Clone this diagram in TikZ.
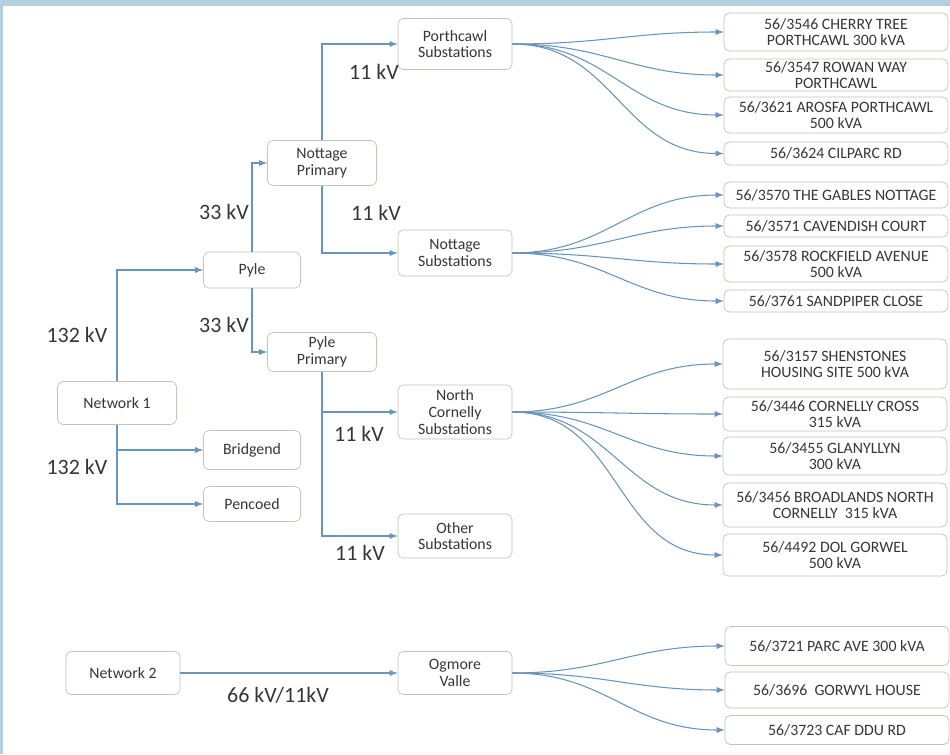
\documentclass[tikz,border=0pt]{standalone}
\usepackage{fontspec}
\setmainfont{Carlito}
\usepackage{xcolor}
\definecolor{frameblue}{RGB}{180,207,222}
\definecolor{linkblue}{RGB}{105,148,188}
\definecolor{boxgrey}{RGB}{190,200,180}
\definecolor{txtgrey}{RGB}{55,55,55}
\usepackage{tikz}
\usetikzlibrary{calc,positioning,arrows,shapes}
\tikzset{
  box/.style={rectangle,rounded corners=3pt,draw=boxgrey,fill=white,text=txtgrey,align=center,font=\fontsize{9}{9.6}\selectfont,inner sep=1pt},
  sbox/.style={box,minimum width=1.94cm},
  mbox/.style={box,minimum width=2.18cm},
  lbox/.style={box,minimum width=2.28cm},
  leaf/.style={box,minimum width=4.48cm},
  kv/.style={text=txtgrey,font=\fontsize{12.5}{14}\selectfont},
  line/.style={draw=linkblue,semithick,->,>=latex},
  fan/.style={out=0,in=180,looseness=1.1}
}
\begin{document}
\begin{tikzpicture}[x=0.02cm,y=-0.02cm]
    \fill[frameblue] (0,0) rectangle (950,754);
    \fill[white] (3,6) rectangle (950,754);
    \useasboundingbox (0,0) rectangle (950,754);

    \node[box,minimum width=2.38cm,minimum height=0.86cm] (net1) at (117,403) {Network 1};
    \node[sbox,minimum height=0.72cm] (pyle) at (252,270) {Pyle};
    \node[sbox,minimum height=0.78cm] (bridgend) at (252,450) {Bridgend};
    \node[sbox,minimum height=0.70cm] (pencoed) at (252,504) {Pencoed};
    \node[mbox,minimum height=0.90cm] (nprim) at (322,163) {Nottage\\ Primary};
    \node[mbox,minimum height=0.78cm] (pprim) at (322,352) {Pyle\\ Primary};
    \node[lbox,minimum height=1.02cm] (porth) at (455,44) {Porthcawl\\ Substations};
    \node[lbox,minimum height=0.92cm] (nottsub) at (455,253) {Nottage\\ Substations};
    \node[lbox,minimum height=1.08cm] (ncsub) at (455,412) {North\\ Cornelly\\ Substations};
    \node[lbox,minimum height=0.88cm] (othersub) at (455,536) {Other\\ Substations};
    \node[lbox,minimum height=0.86cm] (net2) at (123,673) {Network 2};
    \node[lbox,minimum height=0.86cm] (ogmore) at (455,673) {Ogmore\\ Valle};

    \node[leaf,minimum height=0.76cm] (cherry) at (836,32) {56/3546 CHERRY TREE\\ PORTHCAWL 300 kVA};
    \node[leaf,minimum height=0.64cm] (rowan) at (836,75) {56/3547 ROWAN WAY\\ PORTHCAWL};
    \node[leaf,minimum height=0.72cm] (arosfa) at (836,115) {56/3621 AROSFA PORTHCAWL\\ 500 kVA};
    \node[leaf,minimum height=0.46cm] (cilparc) at (836,153.5) {56/3624 CILPARC RD};
    \node[leaf,minimum height=0.52cm] (gables) at (836,195) {56/3570 THE GABLES NOTTAGE};
    \node[leaf,minimum height=0.44cm] (cavend) at (836,226) {56/3571 CAVENDISH COURT};
    \node[leaf,minimum height=0.72cm] (rockf) at (836,264) {56/3578 ROCKFIELD AVENUE\\ 500 kVA};
    \node[leaf,minimum height=0.44cm] (sandp) at (836,301) {56/3761 SANDPIPER CLOSE};
    \node[leaf,minimum height=1.00cm] (shens) at (835,364) {56/3157 SHENSTONES\\ HOUSING SITE 500 kVA};
    \node[leaf,minimum height=0.68cm] (ccross) at (835,414) {56/3446 CORNELLY CROSS\\ 315 kVA};
    \node[leaf,minimum height=0.76cm] (glan) at (835,456) {56/3455 GLANYLLYN\\ 300 kVA};
    \node[leaf,minimum height=0.88cm] (broad) at (835,505) {56/3456 BROADLANDS NORTH\\ CORNELLY~ 315 kVA};
    \node[leaf,minimum height=0.84cm] (dolg) at (835,555) {56/4492 DOL GORWEL\\ 500 kVA};
    \node[leaf,minimum height=0.78cm] (parc) at (837,646) {56/3721 PARC AVE 300 kVA};
    \node[leaf,minimum height=0.72cm] (gorwyl) at (837,690) {56/3696~ GORWYL HOUSE};
    \node[leaf,minimum height=0.58cm] (cafddu) at (837,730) {56/3723 CAF DDU RD};

    \node[kv] (kvnetA) at (77,335) {132 kV};
    \node[kv] (kvnetB) at (77,467) {132 kV};
    \node[kv] (kvpyleA) at (224,212) {33 kV};
    \node[kv] (kvpyleB) at (224,325) {33 kV};
    \node[kv] (kvporth) at (374,72) {11 kV};
    \node[kv] (kvnott) at (376,213) {11 kV};
    \node[kv] (kvnc) at (359,434) {11 kV};
    \node[kv] (kvother) at (360,553) {11 kV};
    \node[kv] (kvnet2) at (278,695) {66 kV/11kV};

    \begin{scope}[every path/.style=line]
      \path (net1) |- (pyle);
      \path (net1) |- (bridgend);
      \path (net1) |- (pencoed);
      \path (pyle) |- (nprim);
      \path (pyle) |- (pprim);
      \path (nprim) |- (porth);
      \path (nprim) |- (nottsub);
      \path (pprim) |- (ncsub);
      \path (pprim) |- (othersub);
      \path (net2) -- (ogmore);

      \path (porth.east) to[fan] (cherry.west);
      \path (porth.east) to[fan] (rowan.west);
      \path (porth.east) to[fan] (arosfa.west);
      \path (porth.east) to[fan] (cilparc.west);
      \path (nottsub.east) to[fan] (gables.west);
      \path (nottsub.east) to[fan] (cavend.west);
      \path (nottsub.east) to[fan] (rockf.west);
      \path (nottsub.east) to[fan] (sandp.west);
      \path (ncsub.east) to[fan] (shens.west);
      \path (ncsub.east) to[fan] (ccross.west);
      \path (ncsub.east) to[fan] (glan.west);
      \path (ncsub.east) to[fan] (broad.west);
      \path (ncsub.east) to[fan] (dolg.west);
      \path (ogmore.east) to[fan] (parc.west);
      \path (ogmore.east) to[fan] (gorwyl.west);
      \path (ogmore.east) to[fan] (cafddu.west);
    \end{scope}
\end{tikzpicture}
\end{document}
